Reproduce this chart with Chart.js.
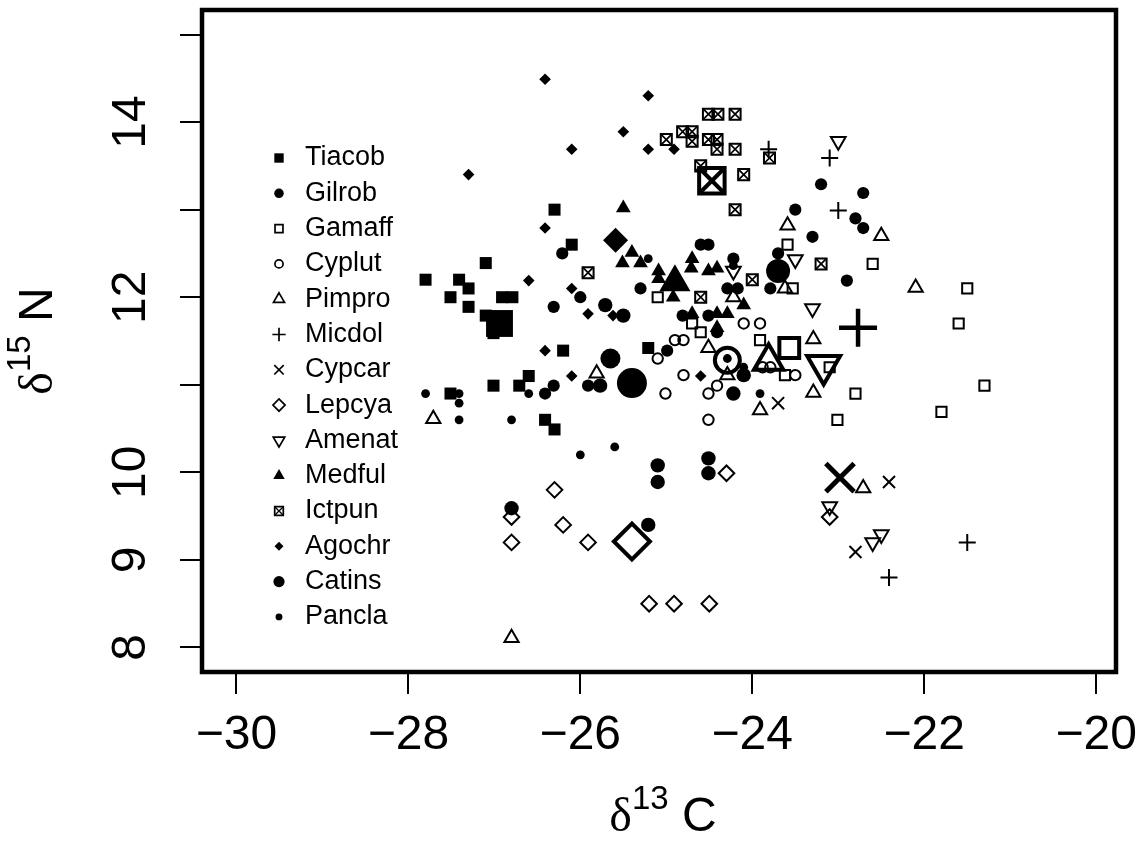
<!DOCTYPE html>
<html>
<head>
<meta charset="utf-8">
<title>Isotope biplot</title>
<script src="https://cdn.jsdelivr.net/npm/chart.js@4.4.1/dist/chart.umd.min.js"></script>
<style>
  html, body { margin: 0; padding: 0; background: #fff; }
  #chart_iso { display: block; }
</style>
</head>
<body>
<canvas id="chart_iso" width="1145" height="842"></canvas>
<script>
// species order as in the legend
const species = ['Tiacob', 'Gilrob', 'Gamaff', 'Cyplut', 'Pimpro', 'Micdol', 'Cypcar',
  'Lepcya', 'Amenat', 'Medful', 'Ictpun', 'Agochr', 'Catins', 'Pancla'];

// individual samples, [d13C, d15N]
const tiacob = [[-27.80, 12.20], [-27.41, 12.20], [-27.30, 12.10], [-27.10, 12.39], [-27.51, 12.00],
  [-27.30, 11.89], [-26.91, 12.00], [-26.79, 12.00], [-27.10, 11.79], [-27.01, 11.59], [-26.20, 11.39],
  [-26.60, 11.10], [-27.01, 10.99], [-26.71, 10.99], [-27.51, 10.90], [-26.41, 10.60], [-26.30, 10.49],
  [-26.30, 13.00], [-26.10, 12.60], [-25.21, 11.42]];
const gilrob = [[-26.00, 12.00], [-26.31, 11.89], [-26.21, 12.50], [-25.91, 10.99], [-26.31, 10.99],
  [-26.41, 10.90], [-25.30, 12.10], [-24.81, 11.79], [-24.51, 11.79], [-24.41, 11.60], [-24.99, 11.39],
  [-24.29, 12.10], [-24.17, 12.10], [-23.79, 12.10], [-24.60, 12.60], [-24.51, 12.60], [-23.50, 13.00],
  [-23.70, 12.50], [-24.22, 12.44], [-23.20, 13.29], [-22.71, 13.19], [-22.80, 12.90], [-22.71, 12.79],
  [-23.30, 12.69], [-22.90, 12.19]];
const gamaff = [[-25.10, 12.00], [-24.70, 11.70], [-24.60, 11.60], [-23.91, 11.51], [-23.62, 11.11],
  [-23.53, 12.10], [-23.59, 12.60], [-22.60, 12.38], [-21.50, 12.10], [-21.60, 11.70], [-21.30, 10.99],
  [-21.80, 10.69], [-22.80, 10.90], [-23.01, 10.60], [-23.10, 11.20]];
const cyplut = [[-25.10, 11.30], [-24.90, 11.51], [-24.80, 11.51], [-24.80, 11.11], [-25.01, 10.90],
  [-24.51, 10.90], [-24.41, 10.99], [-24.51, 10.60], [-23.91, 11.70], [-23.88, 11.20], [-23.79, 11.20],
  [-23.50, 11.11], [-24.10, 11.70]];
const pimpro = [[-22.50, 12.70], [-23.59, 12.82], [-22.10, 12.11], [-23.29, 11.52], [-23.29, 10.91],
  [-23.62, 12.10], [-24.22, 12.00], [-24.51, 11.42], [-24.29, 11.11], [-23.91, 10.71], [-25.81, 11.13],
  [-27.71, 10.61], [-26.80, 8.11], [-22.71, 9.82]];
const micdol = [[-23.10, 13.59], [-23.00, 12.99], [-23.81, 13.69], [-21.50, 9.20], [-22.41, 8.80]];
const cypcar = [[-23.70, 10.79], [-22.41, 9.89], [-22.80, 9.09]];
const lepcya = [[-26.30, 9.80], [-26.20, 9.40], [-25.91, 9.20], [-26.80, 9.20], [-26.80, 9.49],
  [-24.30, 9.99], [-25.20, 8.50], [-24.91, 8.50], [-24.50, 8.50], [-23.10, 9.49]];
const amenat = [[-23.00, 13.78], [-23.30, 11.87], [-23.10, 9.61], [-22.60, 9.20], [-22.50, 9.29],
  [-23.50, 12.43], [-24.22, 12.30]];
const medful = [[-25.50, 13.02], [-25.40, 12.51], [-25.51, 12.39], [-25.30, 12.39], [-25.09, 12.30],
  [-25.09, 12.21], [-24.70, 12.44], [-24.71, 12.33], [-24.51, 12.30], [-24.41, 12.33], [-24.92, 12.00],
  [-24.70, 11.81], [-24.41, 11.81], [-24.29, 11.81], [-24.41, 11.65], [-24.10, 11.91]];
const ictpun = [[-24.51, 14.09], [-24.40, 14.09], [-24.20, 14.09], [-24.81, 13.89], [-24.70, 13.89],
  [-24.70, 13.78], [-24.51, 13.80], [-24.41, 13.80], [-24.41, 13.69], [-24.20, 13.69], [-25.00, 13.80],
  [-24.60, 13.50], [-24.10, 13.40], [-23.80, 13.59], [-24.20, 13.00], [-25.91, 12.28], [-24.60, 12.00],
  [-24.00, 12.20], [-23.20, 12.38]];
const agochr = [[-26.41, 14.49], [-26.10, 13.69], [-27.30, 13.40], [-26.41, 12.79], [-25.21, 14.30],
  [-25.50, 13.89], [-25.21, 13.69], [-24.91, 13.69], [-26.60, 12.19], [-26.10, 12.10], [-25.91, 11.81],
  [-26.41, 11.39], [-26.10, 11.10], [-25.62, 11.79], [-24.60, 11.10]];
const catins = [[-25.71, 11.91], [-25.50, 11.79], [-24.10, 11.11], [-24.22, 10.90], [-26.80, 9.59],
  [-25.10, 10.08], [-25.10, 9.89], [-24.51, 9.99], [-24.51, 10.16], [-25.21, 9.40], [-25.77, 10.99]];
const pancla = [[-27.80, 10.90], [-27.41, 10.90], [-27.41, 10.79], [-27.41, 10.60], [-26.80, 10.60],
  [-26.60, 10.90], [-26.00, 10.20], [-25.60, 10.29], [-24.29, 11.30], [-24.10, 11.20], [-23.91, 10.90],
  [-25.21, 12.44], [-24.22, 12.36]];

const samples = [tiacob, gilrob, gamaff, cyplut, pimpro, micdol, cypcar,
  lepcya, amenat, medful, ictpun, agochr, catins, pancla];

// group means (big symbols), same order as species
const meanC = [-26.94, -23.70, -23.57, -24.29, -23.81, -22.77, -22.98, -25.40, -23.17, -24.90, -24.47, -25.59, -25.40, -25.65];
const meanN = [11.70, 12.30, 11.42, 11.28, 11.27, 11.65, 9.94, 9.21, 11.22, 12.17, 13.33, 12.65, 11.02, 11.30];

// axes
const xTicks = [-30, -28, -26, -24, -22, -20];
const xTickLabels = ['\u221230', '\u221228', '\u221226', '\u221224', '\u221222', '\u221220'];
const yTicks = [8, 9, 10, 11, 12, 13, 14, 15];
const yTickLabels = ['8', '9', '10', '', '12', '', '14', ''];

// symbol look per species (R pch look-alikes)
const symbols = {
  Tiacob: { style: 'rect', fill: true, r: 8.5, lw: 0, mr: 19, mlw: 0 },
  Gilrob: { style: 'circle', fill: true, r: 6.1, lw: 0, mr: 12, mlw: 0 },
  Gamaff: { style: 'rect', fill: false, r: 7.2, lw: 2, mr: 14, mlw: 4 },
  Cyplut: { style: 'circle', fill: false, r: 5.2, lw: 2, mr: 12.5, mlw: 4 },
  Pimpro: { style: 'triangle', fill: false, r: 8.2, lw: 2, mr: 17, mlw: 4 },
  Micdol: { style: 'cross', fill: false, r: 8.5, lw: 2, mr: 19, mlw: 4.5 },
  Cypcar: { style: 'crossRot', fill: false, r: 8.5, lw: 2, mr: 20, mlw: 5 },
  Lepcya: { style: 'rectRot', fill: false, r: 7.8, lw: 2, mr: 18, mlw: 4 },
  Amenat: { style: 'triangle', rot: 180, fill: false, r: 8.5, lw: 2, mr: 19, mlw: 4 },
  Medful: { style: 'triangle', fill: true, r: 8.5, lw: 0, mr: 18, mlw: 0 },
  Ictpun: { style: 'rect', fill: false, r: 7.8, lw: 2, mr: 18, mlw: 4, boxX: true },
  Agochr: { style: 'rectRot', fill: true, r: 5.8, lw: 0, mr: 12.5, mlw: 0 },
  Catins: { style: 'circle', fill: true, r: 7.2, lw: 0, mr: 15, mlw: 0 },
  Pancla: { style: 'circle', fill: true, r: 4.4, lw: 0, mr: 10, mlw: 0 }
};

const INK = '#000000';
const NONE = 'rgba(0,0,0,0)';
const FONT = '"Liberation Sans", Arial, Helvetica, sans-serif';

const makeSet = (label, points, style, rot, r, lw, fill, order) => ({
  label,
  data: points,
  showLine: false,
  order,
  pointStyle: style,
  pointRotation: rot || 0,
  pointRadius: r,
  pointBorderWidth: lw,
  pointBackgroundColor: fill ? INK : NONE,
  pointBorderColor: INK,
  backgroundColor: fill ? INK : NONE,
  borderColor: INK
});

const datasets = [];
species.forEach((name, i) => {
  const s = symbols[name];
  const pts = samples[i].map(([x, y]) => ({ x, y }));
  const mean = [{ x: meanC[i], y: meanN[i] }];
  datasets.push(makeSet(name + ' mean', mean, s.style, s.rot, s.mr, s.mlw, s.fill, 1));
  if (s.boxX) datasets.push(makeSet(name + ' mean x', mean, 'crossRot', 0, s.mr, s.mlw, false, 1));
  datasets.push(makeSet(name, pts, s.style, s.rot, s.r, s.lw, s.fill, 2));
  if (s.boxX) datasets.push(makeSet(name + ' x', pts, 'crossRot', 0, s.r, 1.7, false, 2));
});

// box, legend (bty = "n") and axis titles with superscripts
const legendX = 279, legendTextX = 305, legendTop = 158, legendStep = 35.3, legendScale = 0.78;

const drawTitle = (ctx, parts, cx, baseline) => {
  let total = 0;
  parts.forEach(p => { ctx.font = p.font; total += ctx.measureText(p.t).width; });
  let x = cx - total / 2;
  parts.forEach(p => {
    ctx.font = p.font;
    ctx.fillText(p.t, x, baseline + p.dy);
    x += ctx.measureText(p.t).width;
  });
};

const framePlugin = {
  id: 'frame',
  afterDraw(chart) {
    const ctx = chart.ctx;
    const a = chart.chartArea;
    ctx.save();
    ctx.strokeStyle = INK;
    ctx.lineWidth = 4.5;
    ctx.strokeRect(a.left, a.top, a.right - a.left, a.bottom - a.top);

    species.forEach((name, i) => {
      const s = symbols[name];
      const y = legendTop + i * legendStep;
      const r = s.r * legendScale;
      ctx.fillStyle = s.fill ? INK : NONE;
      ctx.strokeStyle = INK;
      ctx.lineWidth = 1.7;
      Chart.helpers.drawPoint(ctx, { pointStyle: s.style, rotation: s.rot || 0, radius: r, borderWidth: s.lw ? 1.7 : 0 }, legendX, y);
      if (s.boxX) {
        ctx.lineWidth = 1.3;
        Chart.helpers.drawPoint(ctx, { pointStyle: 'crossRot', rotation: 0, radius: r, borderWidth: 1.3 }, legendX, y);
      }
      ctx.fillStyle = INK;
      ctx.font = '27px ' + FONT;
      ctx.textBaseline = 'middle';
      ctx.textAlign = 'left';
      ctx.fillText(name, legendTextX, y);
    });

    ctx.fillStyle = INK;
    ctx.textBaseline = 'alphabetic';
    ctx.textAlign = 'left';
    const serif = '"Liberation Serif", "DejaVu Serif", serif';
    drawTitle(ctx, [
      { t: '\u03b4', font: '48px ' + serif, dy: 0 },
      { t: '13', font: '33px ' + FONT, dy: -22 },
      { t: ' C', font: '48px ' + FONT, dy: 0 }
    ], 663, 831);

    ctx.translate(52, 341);
    ctx.rotate(-Math.PI / 2);
    drawTitle(ctx, [
      { t: '\u03b4', font: '48px ' + serif, dy: 0 },
      { t: '15', font: '33px ' + FONT, dy: -22 },
      { t: ' N', font: '48px ' + FONT, dy: 0 }
    ], 0, 0);
    ctx.restore();
  }
};

// keep the plot region fixed: no extra room for overhanging tick labels
const fixScale = (axis, size) => {
  if (axis.isHorizontal()) axis.height = size; else axis.width = size;
  axis.paddingTop = 0;
  axis.paddingBottom = 0;
  axis.paddingLeft = 0;
  axis.paddingRight = 0;
};

Chart.defaults.font.family = FONT;
Chart.defaults.color = INK;

new Chart(document.getElementById('chart_iso').getContext('2d'), {
  type: 'scatter',
  data: { datasets },
  options: {
    responsive: false,
    animation: false,
    devicePixelRatio: 1,
    events: [],
    layout: { autoPadding: false, padding: { left: 0, top: 10, right: 29, bottom: 0 } },
    plugins: { legend: { display: false }, tooltip: { enabled: false } },
    scales: {
      x: {
        type: 'linear',
        min: -30.40,
        max: -19.77,
        afterBuildTicks: (axis) => { axis.ticks = xTicks.map(v => ({ value: v })); },
        afterFit: (axis) => fixScale(axis, 170),
        border: { display: false },
        grid: { drawOnChartArea: false, drawTicks: true, tickLength: 22, lineWidth: 2, color: INK },
        ticks: {
          autoSkip: false,
          maxRotation: 0,
          padding: 13,
          color: INK,
          font: { size: 48 },
          callback: (v, i) => xTickLabels[i]
        }
      },
      y: {
        type: 'linear',
        min: 7.72,
        max: 15.28,
        afterBuildTicks: (axis) => { axis.ticks = yTicks.map(v => ({ value: v })); },
        afterFit: (axis) => fixScale(axis, 202),
        border: { display: false },
        grid: { drawOnChartArea: false, drawTicks: true, tickLength: 22, lineWidth: 2, color: INK },
        ticks: {
          autoSkip: false,
          minRotation: 90,
          maxRotation: 90,
          crossAlign: 'center',
          padding: 22,
          color: INK,
          font: { size: 48 },
          callback: (v, i) => yTickLabels[i]
        }
      }
    }
  },
  plugins: [framePlugin]
});
</script>
</body>
</html>
